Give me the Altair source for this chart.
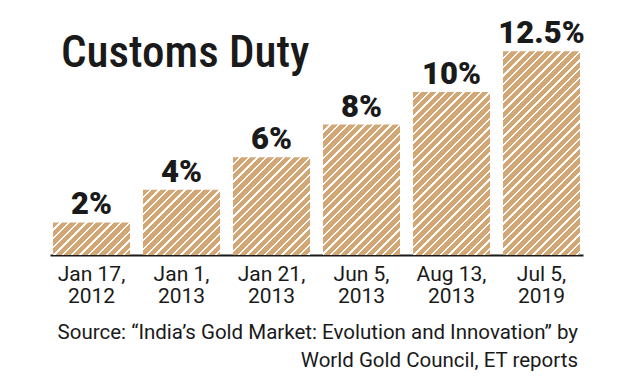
import altair as alt
import pandas as pd

# ---- data ----
dates = ["Jan 17, 2012", "Jan 1, 2013", "Jan 21, 2013", "Jun 5, 2013", "Aug 13, 2013", "Jul 5, 2019"]
duty = [2, 4, 6, 8, 10, 12.5]
title_text = "Customs Duty"
source_lines = [
    "Source: \u201cIndia\u2019s Gold Market: Evolution and Innovation\u201d by",
    "World Gold Council, ET reports",
]

# ---- layout / style ----
W, H = 533, 212
Y_MAX = 13
P_IN, P_OUT = 0.144, 0.033
TAN = "#d3a675"
FONT = "Roboto Condensed, Roboto"

step = W / (len(dates) - P_IN + 2 * P_OUT)
bw = step * (1 - P_IN)
PERIOD = 8.7      # stripe period along (x + y), px
WHITE_FRAC = 0.26


def stripes(h, w=bw):
    s = (w + h) * w / (w * w + h * h)
    pt = PERIOD / (w + h)
    stops = []
    k = 0
    while k * pt < 1:
        a = k * pt
        b = min(a + (1 - WHITE_FRAC) * pt, 1)
        c = min((k + 1) * pt, 1)
        stops += [
            alt.GradientStop(offset=a, color=TAN),
            alt.GradientStop(offset=b, color=TAN),
            alt.GradientStop(offset=b, color="white"),
            alt.GradientStop(offset=c, color="white"),
        ]
        k += 1
    return alt.LinearGradient(
        gradient="linear", x1=0, y1=0, x2=s, y2=s * h / w, stops=stops
    )


df = pd.DataFrame({"date": dates, "duty": duty})

x_enc = alt.X(
    "date:N",
    sort=dates,
    title=None,
    scale=alt.Scale(paddingInner=P_IN, paddingOuter=P_OUT),
    axis=alt.Axis(
        domainColor="#1a1a1a",
        domainWidth=2,
        ticks=False,
        tickSize=0,
        labelAngle=0,
        labelFont="Roboto",
        labelFontSize=21,
        labelColor="#1a1a1a",
        labelPadding=8,
        labelLineHeight=22,
        labelExpr="[substring(datum.value, 0, indexof(datum.value, ', ') + 1), substring(datum.value, indexof(datum.value, ', ') + 2)]",
    ),
)
y_enc = alt.Y("duty:Q", title=None, axis=None, scale=alt.Scale(domain=[0, Y_MAX]))

base = alt.Chart(df).encode(x=x_enc, y=y_enc)

bars = [
    base.transform_filter(alt.datum.date == d).mark_bar(
        fill=stripes(v * H / Y_MAX), stroke=None
    )
    for d, v in zip(dates, duty)
]

values = base.transform_calculate(lbl="toString(datum.duty) + '%'").mark_text(
    font="Roboto", fontSize=31, fontWeight=900, color="#1a1a1a",
    baseline="alphabetic", dy=-8,
).encode(text="lbl:N")

title = alt.Chart(pd.DataFrame({"t": [title_text]})).mark_text(
    font=FONT, fontSize=45, fontWeight=500, color="#1a1a1a",
    align="left", baseline="alphabetic",
).encode(text="t:N", x=alt.value(11), y=alt.value(24))

src = alt.Chart(pd.DataFrame({"t": source_lines, "i": [0, 1]})).mark_text(
    font="Roboto", fontSize=20.5, color="#1a1a1a", align="right", baseline="alphabetic",
).encode(
    text="t:N",
    x=alt.value(W - 5),
    y=alt.Y("i:Q", axis=None, scale=alt.Scale(domain=[0, 1], range=[296, 324])),
)

chart = alt.layer(*bars, values, title, src).resolve_scale(y="independent").properties(
    width=W, height=H,
    autosize=alt.AutoSizeParams(type="none"),
    padding={"left": 42, "top": 35, "right": 39, "bottom": 124},
    background="white",
).configure_view(stroke=None)

chart.save("out.html", embed_options={"renderer": "svg", "actions": False})
